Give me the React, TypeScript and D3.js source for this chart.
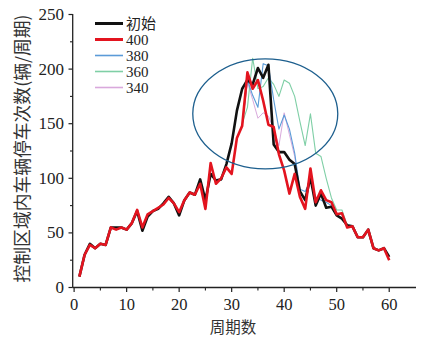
import React from "react";
import * as d3 from "d3";

// Cycle index (周期)
const cycles: number[] = d3.range(1, 61);

// 初始 (baseline) stops per cycle
const initialValues: number[] = [
  10, 30, 40, 36, 40, 39, 55, 55, 55, 53,
  59, 70, 52, 65, 70, 72, 77, 83, 77, 66,
  80, 87, 85, 99, 80, 104, 98, 99, 113, 132,
  162, 182, 190, 186, 201, 192, 204, 131, 124, 124,
  117, 113, 88, 80, 101, 75, 86, 73, 74, 66,
  63, 57, 56, 46, 46, 53, 36, 34, 36, 28,
];

// Threshold 400
const v400: number[] = [
  10, 30, 39, 36, 40, 39, 55, 53, 55, 53,
  59, 71, 55, 67, 70, 73, 76, 82, 77, 69,
  80, 87, 85, 95, 72, 114, 95, 100, 110, 104,
  137, 148, 197, 182, 190, 171, 149, 147, 122, 107,
  86, 104, 83, 72, 109, 78, 89, 80, 78, 67,
  68, 55, 56, 46, 46, 53, 36, 34, 36, 25,
];

// Thresholds 380 / 360 / 340 only deviate around the peak
const cycles380: number[] = d3.range(32, 51);
const v380: number[] = [148, 190, 176, 165, 205, 203, 172, 145, 158, 145, 123, 90, 88, 98, 83, 80, 78, 75, 68];

const cycles360: number[] = d3.range(32, 53);
const v360: number[] = [150, 165, 210, 182, 184, 192, 186, 175, 190, 187, 175, 152, 130, 159, 123, 120, 100, 82, 71, 71, 57];

const cycles340: number[] = d3.range(32, 47);
const v340: number[] = [148, 188, 172, 155, 160, 157, 145, 130, 160, 140, 120, 88, 80, 100, 77];

const legendLabels: string[] = ["初始", "400", "380", "360", "340"];
const xTicks: number[] = [0, 10, 20, 30, 40, 50, 60];
const yTicks: number[] = [0, 50, 100, 150, 200, 250];

const W = 421;
const H = 338;

export default function App() {
  const x = d3.scaleLinear().domain([-0.27, 65.1]).range([72.7, 416]);
  const y = d3.scaleLinear().domain([0, 250]).range([287.5, 14.5]);

  const line = (xs: number[], vs: number[]) =>
    d3
      .line<number>()
      .x((_, i) => x(xs[i]))
      .y((d) => y(d))(vs) as string;

  const series = [
    { xs: cycles340, vs: v340, color: "#d9a9dc", width: 1 },
    { xs: cycles360, vs: v360, color: "#7fcfa6", width: 1.1 },
    { xs: cycles380, vs: v380, color: "#5b9bd8", width: 1.1 },
    { xs: cycles, vs: initialValues, color: "#111111", width: 2.6 },
    { xs: cycles, vs: v400, color: "#e3141f", width: 2.6 },
  ];

  const legendColors = ["#111111", "#e3141f", "#5b9bd8", "#7fcfa6", "#d9a9dc"];
  const legendWidths = [2.6, 2.6, 1.2, 1.2, 1.2];

  const minorX = d3.range(5, 65, 10);
  const minorY = d3.range(25, 250, 50);

  const serif = "'Liberation Serif', 'DejaVu Serif', serif";
  const cjk = "'Noto Sans CJK SC', sans-serif";

  return (
    <div style={{ position: "fixed", left: 0, top: 0 }}>
      <svg width={W} height={H} style={{ display: "block", background: "#fff" }}>
        {/* data lines */}
        {series.map((s, i) => (
          <path
            key={i}
            d={line(s.xs, s.vs)}
            fill="none"
            stroke={s.color}
            strokeWidth={s.width}
            strokeLinejoin="round"
          />
        ))}

        {/* highlight ellipse around the peak */}
        <ellipse
          cx={x(36.4)}
          cy={y(159)}
          rx={72.5}
          ry={55}
          fill="none"
          stroke="#1d5f8e"
          strokeWidth={1.3}
        />

        {/* axes */}
        <line x1={72.7} x2={416} y1={287.5} y2={287.5} stroke="#222" strokeWidth={1.3} />
        <line x1={72.7} x2={72.7} y1={14} y2={287.5} stroke="#222" strokeWidth={1.3} />

        {xTicks.map((t) => (
          <g key={"xt" + t}>
            <line x1={x(t)} x2={x(t)} y1={287.5} y2={292} stroke="#222" strokeWidth={1.2} />
            <text
              x={x(t)}
              y={309.5}
              textAnchor="middle"
              fontFamily={serif}
              fontSize={16.5}
              fill="#222"
            >
              {t}
            </text>
          </g>
        ))}
        {minorX.map((t) => (
          <line key={"xm" + t} x1={x(t)} x2={x(t)} y1={287.5} y2={290.5} stroke="#222" strokeWidth={1.1} />
        ))}

        {yTicks.map((t) => (
          <g key={"yt" + t}>
            <line x1={68.5} x2={72.7} y1={y(t)} y2={y(t)} stroke="#222" strokeWidth={1.2} />
            <text
              x={64}
              y={y(t) + 5.5}
              textAnchor="end"
              fontFamily={serif}
              fontSize={17}
              fill="#222"
            >
              {t}
            </text>
          </g>
        ))}
        {minorY.map((t) => (
          <line key={"ym" + t} x1={70} x2={72.7} y1={y(t)} y2={y(t)} stroke="#222" strokeWidth={1.1} />
        ))}

        {/* axis titles */}
        <text
          x={233}
          y={332.5}
          textAnchor="middle"
          fontFamily={cjk}
          fontSize={15.5}
          fill="#333"
        >
          周期数
        </text>
        <text
          transform={`translate(29, 148.5) rotate(-90)`}
          textAnchor="middle"
          fontFamily={cjk}
          fontSize={17.8}
          fill="#333"
        >
          控制区域内车辆停车次数(辆/周期)
        </text>

        {/* legend */}
        {legendLabels.map((lab, i) => {
          const ly = 23.5 + i * 16;
          return (
            <g key={"lg" + i}>
              <line x1={95} x2={123} y1={ly} y2={ly} stroke={legendColors[i]} strokeWidth={legendWidths[i] + 0.4} />
              <text
                x={126}
                y={ly + 5.5}
                fontFamily={i === 0 ? cjk : serif}
                fontSize={15}
                fill="#222"
              >
                {lab}
              </text>
            </g>
          );
        })}
      </svg>
    </div>
  );
}
